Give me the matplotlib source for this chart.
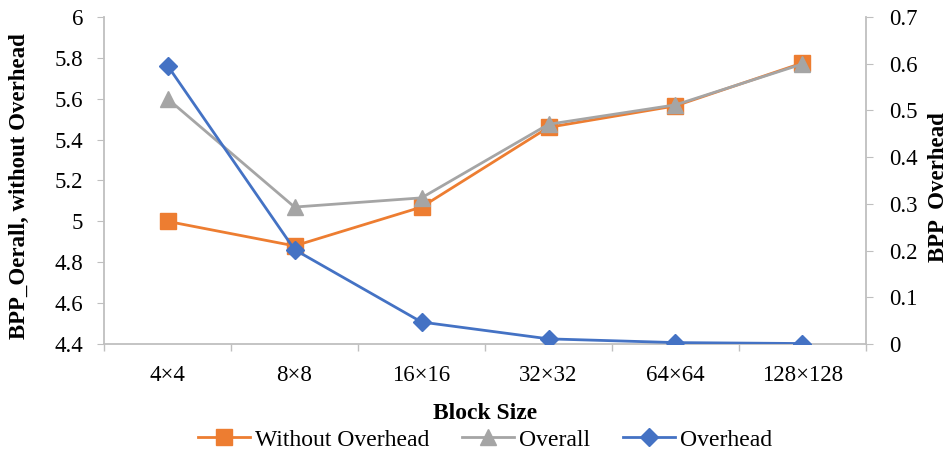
import matplotlib
matplotlib.use("Agg")
import matplotlib.pyplot as plt
from matplotlib.ticker import FixedLocator, NullFormatter

plt.rcParams['font.family'] = ['Liberation Serif', 'DejaVu Serif']

block_sizes = ["4×4", "8×8", "16×16", "32×32", "64×64", "128×128"]
without_overhead = [5.00, 4.88, 5.07, 5.46, 5.565, 5.775]
overall = [5.60, 5.07, 5.115, 5.475, 5.57, 5.77]
overhead = [0.596, 0.202, 0.047, 0.011, 0.003, 0.001]

c_orange = "#ED7D31"
c_gray = "#A5A5A5"
c_blue = "#4472C4"
c_axis = "#BFBFBF"

fig = plt.figure(figsize=(9.51, 4.54), dpi=100)
ax = fig.add_axes([0.1094, 0.2423, 0.8012, 0.7203])
ax2 = ax.twinx()

x = list(range(len(block_sizes)))
l1, = ax.plot(x, without_overhead, color=c_orange, lw=2, marker="s", ms=11,
              markeredgecolor=c_orange, label="Without Overhead", zorder=3)
l2, = ax.plot(x, overall, color=c_gray, lw=2, marker="^", ms=12,
              markeredgecolor=c_gray, label="Overall", zorder=4)
l3, = ax2.plot(x, overhead, color=c_blue, lw=2, marker="D", ms=9,
               markeredgecolor=c_blue, label="Overhead", zorder=5)

ax.set_xlim(-0.5, len(block_sizes) - 0.5)
ax.set_ylim(4.4, 6.0)
ax2.set_ylim(0, 0.7)
ax.set_yticks([4.4 + 0.2 * i for i in range(9)])
ax.set_yticklabels(["4.4", "4.6", "4.8", "5", "5.2", "5.4", "5.6", "5.8", "6"])
ax2.set_yticks([0.1 * i for i in range(8)])
ax2.set_yticklabels(["0", "0.1", "0.2", "0.3", "0.4", "0.5", "0.6", "0.7"])

ax.set_xticks(x)
ax.set_xticklabels(block_sizes)
ax.tick_params(axis="x", which="major", length=0, pad=15, labelsize=16.5)
ax.xaxis.set_minor_locator(FixedLocator([i - 0.5 for i in range(len(block_sizes) + 1)]))
ax.xaxis.set_minor_formatter(NullFormatter())
ax.tick_params(axis="x", which="minor", length=5, color=c_axis, width=1)
ax.tick_params(axis="y", length=5, color=c_axis, labelsize=16.5, pad=10)
ax2.tick_params(axis="y", length=5, color=c_axis, labelsize=16.5, pad=12)

for a in (ax, ax2):
    for s in a.spines.values():
        s.set_visible(False)
ax.spines["left"].set_visible(True)
ax.spines["bottom"].set_visible(True)
ax2.spines["right"].set_visible(True)
for s in (ax.spines["left"], ax.spines["bottom"], ax2.spines["right"]):
    s.set_color(c_axis)
    s.set_linewidth(1.3)

ax.set_ylabel("BPP_Oerall, without Overhead", fontsize=16.5, fontweight="bold")
ax.yaxis.set_label_coords(-0.097, 0.483)
ax2.set_ylabel("BPP  Overhead", fontsize=16.5, fontweight="bold")
ax2.yaxis.set_label_coords(1.081, 0.48)
ax.set_xlabel("Block Size", fontsize=17, fontweight="bold")
ax.xaxis.set_label_coords(0.5, -0.180)

fig.legend(handles=[l1, l2, l3], loc="center", bbox_to_anchor=(0.51, 0.031),
           ncol=3, frameon=False, fontsize=17, handlelength=2.2,
           columnspacing=1.4, handletextpad=0.2)

fig.savefig("out.png", dpi=100)
